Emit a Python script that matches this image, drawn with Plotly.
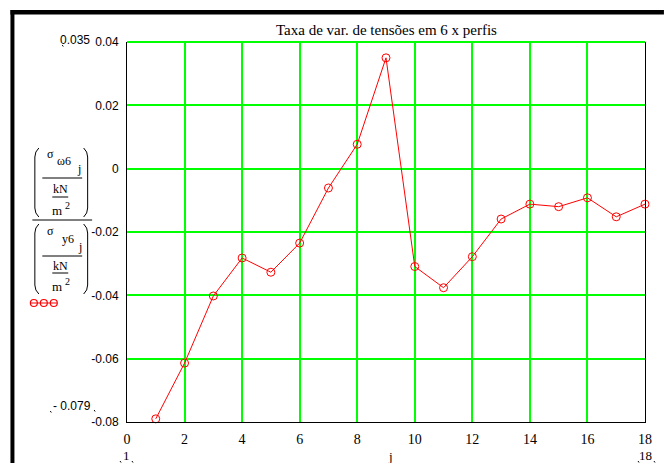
import plotly.graph_objects as go

# Stress ratio per profile index j
j_values = list(range(1, 19))
ratio_values = [-0.079, -0.0614, -0.0402, -0.0282, -0.0327, -0.0235, -0.0061, 0.0077,
                0.035, -0.0309, -0.0376, -0.0278, -0.0159, -0.0112, -0.0120, -0.0092,
                -0.0152, -0.0112]
x_ticks = [0, 2, 4, 6, 8, 10, 12, 14, 16, 18]
y_ticks = [-0.08, -0.06, -0.04, -0.02, 0, 0.02, 0.04]
y_tick_text = ["-0.08", "-0.06", "-0.04", "-0.02", "0", "0.02", "0.04"]

W, H = 664, 463
L, R, T, B = 127, 647, 42, 422          # plot area in pixels


def px(x):
    return (x - L) / (R - L)


def py(y):
    return (B - y) / (B - T)


SERIF = "Liberation Serif"
SANS = "Liberation Sans"
RED = "#ff0000"
GREEN = "#00ff00"

fig = go.Figure()
fig.add_trace(go.Scatter(
    x=j_values, y=ratio_values, mode="lines+markers",
    line=dict(color=RED, width=1),
    marker=dict(symbol="circle-open", size=8, color=RED, line=dict(width=1, color=RED)),
    showlegend=False, cliponaxis=False,
))

shapes = []
# top gridline drawn in green over the plot edge
shapes.append(dict(type="line", xref="paper", yref="paper", x0=0, x1=1, y0=1, y1=1,
                   line=dict(color=GREEN, width=2), layer="above"))
# heavy outer border (top and left)
shapes.append(dict(type="rect", xref="paper", yref="paper",
                   x0=px(10), x1=px(W + 2), y0=py(10), y1=py(14.5),
                   fillcolor="black", line=dict(width=0)))
shapes.append(dict(type="rect", xref="paper", yref="paper",
                   x0=px(10), x1=px(14), y0=py(10), y1=py(H + 2),
                   fillcolor="black", line=dict(width=0)))


def paren(x_out, x_in, y0, y1):
    # tall bracket drawn as a path in paper coordinates
    c = 9
    xo, xi = px(x_out), px(x_in)
    path = (f"M {xi},{py(y0)} Q {xo},{py(y0 + c * 0.4)} {xo},{py(y0 + c)} "
            f"L {xo},{py(y1 - c)} Q {xo},{py(y1 - c * 0.4)} {xi},{py(y1)}")
    return dict(type="path", xref="paper", yref="paper", path=path,
                line=dict(color="black", width=1))


def hbar(x0, x1, y):
    return dict(type="line", xref="paper", yref="paper", x0=px(x0), x1=px(x1),
                y0=py(y), y1=py(y), line=dict(color="black", width=1))


# stacked fraction label on the y side
for y0, y1 in [(148, 217), (224, 294)]:
    shapes.append(paren(34.5, 38.5, y0, y1))
    shapes.append(paren(87.5, 83.5, y0, y1))
shapes.append(hbar(32, 92, 220))
shapes.append(hbar(42, 82, 178))
shapes.append(hbar(52, 68, 197))
shapes.append(hbar(42, 82, 256))
shapes.append(hbar(52, 68, 273))

# legend sample: three open circles on a line
shapes.append(dict(type="line", xref="paper", yref="paper", x0=px(30), x1=px(57),
                   y0=py(303), y1=py(303), line=dict(color=RED, width=1)))
for cx in [33.5, 43.5, 53.5]:
    shapes.append(dict(type="circle", xref="paper", yref="paper",
                       x0=px(cx - 3.5), x1=px(cx + 3.5), y0=py(303 - 3.5), y1=py(303 + 3.5),
                       line=dict(color=RED, width=1.2)))

annotations = []


def text(t, x, y, size=12, family=SERIF, xanchor="center", yanchor="middle"):
    annotations.append(dict(text=t, x=px(x), y=py(y), xref="paper", yref="paper",
                            showarrow=False, xanchor=xanchor, yanchor=yanchor,
                            font=dict(family=family, size=size, color="black")))


text("Taxa de var. de tensões em 6 x perfis", 387, 30, size=15)

text("σ", 50, 154, size=12)
text("ω6", 63.5, 161, size=12)
text("j", 79, 169, size=12)
text("kN", 60.5, 189, size=12)
text("m", 57, 210.5, size=13)
text("2", 67.5, 205, size=10)

text("σ", 50, 231, size=12)
text("y6", 68, 239, size=12)
text("j", 80, 247, size=12)
text("kN", 60.5, 265.5, size=12)
text("m", 57, 286, size=13)
text("2", 67.5, 281, size=10)

text("0.035", 92, 40, size=12, family=SANS, xanchor="right")
text("- 0.079", 93, 406, size=12, family=SANS, xanchor="right")
text("1", 126, 455, size=13)
text("j", 392, 456, size=13)
text("18", 648, 455, size=13)

# tiny placeholder corner marks next to the range labels
for (x, y) in [(62, 45), (50, 411), (120, 461), (132, 461), (640, 461), (656, 461), (94, 410)]:
    shapes.append(dict(type="line", xref="paper", yref="paper", x0=px(x), x1=px(x + 1),
                       y0=py(y), y1=py(y + 1.5), line=dict(color="black", width=1)))

fig.update_layout(
    width=W, height=H,
    margin=dict(l=L, r=W - R, t=T, b=H - B),
    paper_bgcolor="white", plot_bgcolor="white",
    shapes=shapes, annotations=annotations,
    xaxis=dict(range=[0, 18], tickvals=x_ticks, ticks="", showgrid=True,
               gridcolor=GREEN, gridwidth=2, zeroline=False,
               showline=True, linecolor="black", linewidth=1, mirror=False,
               tickfont=dict(family=SERIF, size=14, color="black"),
               ticklabelstandoff=4),
    yaxis=dict(range=[-0.08, 0.04], tickvals=y_ticks, ticktext=y_tick_text, ticks="",
               showgrid=True, gridcolor=GREEN, gridwidth=2, zeroline=False,
               showline=True, linecolor="black", linewidth=1, mirror=True,
               tickfont=dict(family=SANS, size=12, color="black"),
               ticklabelstandoff=5),
)

fig.write_html("out.html")
